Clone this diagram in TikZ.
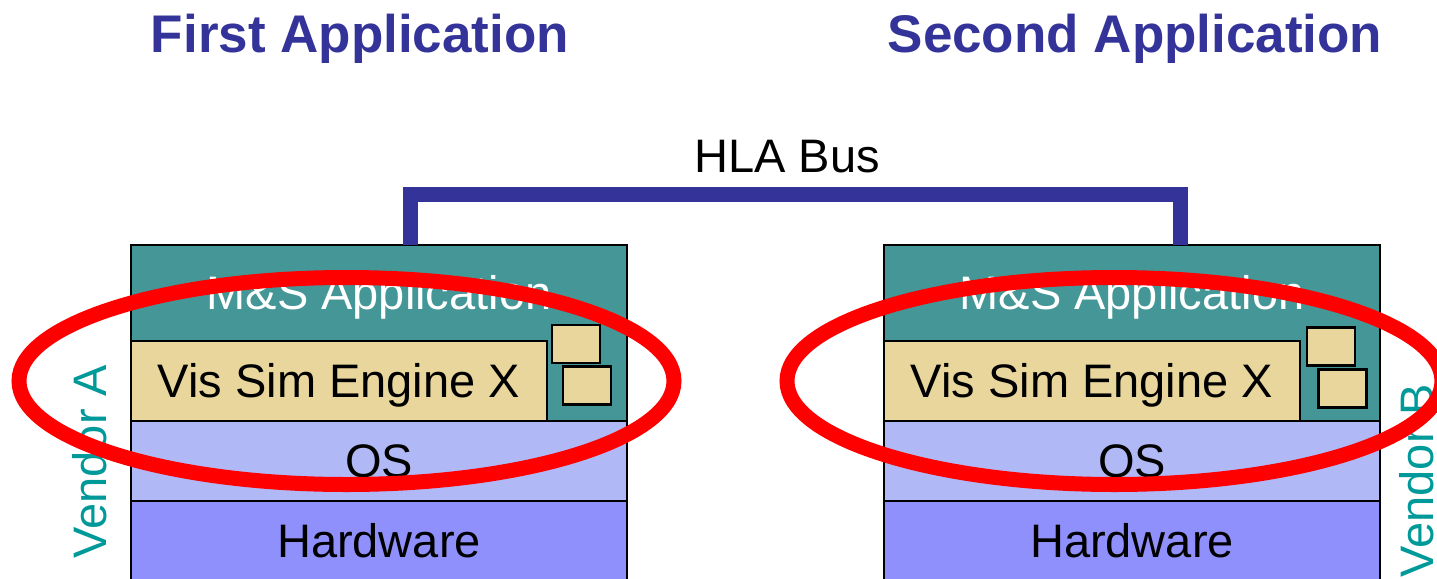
\documentclass[tikz,border=0pt]{standalone}
\usepackage{fontspec}
\setmainfont{Liberation Sans}
\usetikzlibrary{positioning}
\definecolor{titleblue}{RGB}{51,51,153}
\definecolor{appteal}{RGB}{69,151,151}
\definecolor{visbeige}{RGB}{232,214,156}
\definecolor{oslilac}{RGB}{176,184,245}
\definecolor{hwviolet}{RGB}{144,144,252}
\definecolor{vendorteal}{RGB}{0,153,153}
\newcommand{\bandfont}{\fontsize{23.5}{28}\selectfont}
\tikzstyle{layer} = [rectangle, draw, line width=1pt, outer sep=0pt, inner sep=0pt,
    minimum width=248pt, minimum height=40pt, font=\bandfont, text height=16.8pt, text depth=0pt]
\tikzstyle{app} = [layer, fill=appteal, minimum height=88pt]
\tikzstyle{apptext} = [text=white, font=\bandfont, text height=16.8pt, text depth=0pt,
    inner sep=0pt, anchor=center, yshift=-24pt]
\tikzstyle{vis} = [layer, fill=visbeige, minimum width=208pt]
\tikzstyle{os} = [layer, fill=oslilac]
\tikzstyle{hw} = [layer, fill=hwviolet]
\tikzstyle{chip} = [rectangle, draw, line width=1.2pt, fill=visbeige, inner sep=0pt,
    minimum width=24pt, minimum height=19pt]
\tikzstyle{bus} = [draw=titleblue, line width=7.5pt]
\tikzstyle{ring} = [draw=red, line width=7.5pt]
\tikzstyle{heading} = [font=\fontsize{26.5}{32}\selectfont\bfseries, text=titleblue, anchor=base]
\tikzstyle{vendor} = [font=\bandfont, text=vendorteal, rotate=90, inner sep=0pt,
    text height=16.8pt, text depth=0pt]

\begin{document}
\begin{tikzpicture}[x=0.5pt, y=-0.5pt]
	\useasboundingbox (0,0) rectangle (1437,579);

	\node [heading] (titleA) at (360,52) {First Application};
	\node [heading] (titleB) at (1135,52) {Second Application};

	% first application stack
	\node [os] (osA) at (379,461) {OS};
	\node [hw, below=0pt of osA] (hwA) {Hardware};
	\node [app, above=0pt of osA, label={[apptext]north:M\&S Application}] (appA) {};
	\node [vis, anchor=south west] (visA) at (osA.north west) {Vis Sim Engine X};
	\node [chip] (chipA1) at (576,344) {};
	\node [chip] (chipA2) at (587,385.5) {};

	% second application stack
	\node [os] (osB) at (1132,461) {OS};
	\node [hw, below=0pt of osB] (hwB) {Hardware};
	\node [app, above=0pt of osB, label={[apptext]north:M\&S Application}] (appB) {};
	\node [vis, anchor=south west] (visB) at (osB.north west) {Vis Sim Engine X};
	\node [chip] (chipB1) at (1331,346.5) {};
	\node [chip] (chipB2) at (1342.5,388.5) {};

	\coordinate (busA) at ([xshift=15.5pt]appA.north);
	\coordinate (busB) at ([xshift=24pt]appB.north);
	\coordinate (busTop) at (795,194);
	\path [bus] (busA) |- (busTop) -| (busB);
	\node [font=\bandfont, text height=16.8pt, text depth=0pt, inner sep=0pt] (hla) at (787,155.5) {HLA Bus};

	\node [vendor] (vendA) at (89.5,461.5) {Vendor A};
	\node [vendor] (vendB) at (1417,480.5) {Vendor B};

	\draw [ring] (346.5,381) ellipse [x radius=163.75pt, y radius=51.75pt];
	\draw [ring] (1114.5,381) ellipse [x radius=163.75pt, y radius=51.75pt];
\end{tikzpicture}
\end{document}
